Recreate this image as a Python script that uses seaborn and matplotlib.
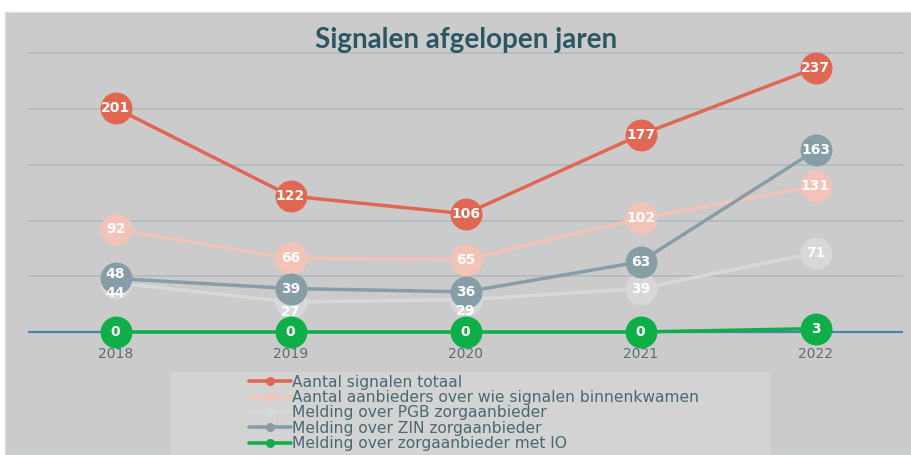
import pandas as pd
import matplotlib.pyplot as plt
import seaborn as sns
from matplotlib.patches import Rectangle
from matplotlib.lines import Line2D

# data
jaren = ['2018', '2019', '2020', '2021', '2022']
totaal = [201, 122, 106, 177, 237]
aanbieders = [92, 66, 65, 102, 131]
pgb = [44, 27, 29, 39, 71]
zin = [48, 39, 36, 63, 163]
io = [0, 0, 0, 0, 3]

series = [
    ('Aantal signalen totaal', totaal, '#e06752'),
    ('Aantal aanbieders over wie signalen binnenkwamen', aanbieders, '#f3c3b8'),
    ('Melding over PGB zorgaanbieder', pgb, '#d8d8d8'),
    ('Melding over ZIN zorgaanbieder', zin, '#879ea6'),
    ('Melding over zorgaanbieder met IO', io, '#0eaf48'),
]
draw_order = [2, 1, 3, 0, 4]

# label nudges in points (to keep stacked labels apart, like the original)
nudge = {2: [-7, -7, -8, 0, 0], 3: [3, 0, 0, 0, 0]}

panel = '#cbcbcb'
textcol = '#4b6872'

sns.set_theme(style='white')
plt.rcParams['font.family'] = ['DejaVu Sans']

fig = plt.figure(figsize=(9.12, 4.55), dpi=100)
fig.patch.set_facecolor('white')
fig.patches.append(Rectangle((5 / 912, 0), 1, (455 - 12) / 455, transform=fig.transFigure,
                             facecolor=panel, edgecolor='#cfe0e8', linewidth=1, zorder=-2))

ax = fig.add_axes([28 / 912, (455 - 340) / 455, (903 - 28) / 912, 300 / 455])
ax.set_facecolor('none')
ax.set_zorder(1)

for i in draw_order:
    name, vals, col = series[i]
    df = pd.DataFrame({'Jaar': jaren, 'Aantal': vals})
    sns.lineplot(data=df, x='Jaar', y='Aantal', ax=ax, color=col, linewidth=2.5,
                 marker='o', markersize=23, markeredgewidth=0, zorder=3 + i, clip_on=False)
    dy = nudge.get(i, [0] * len(vals))
    for x, v in enumerate(vals):
        ax.annotate(str(v), (x, v), xytext=(0, dy[x]), textcoords='offset points',
                    color='white', fontsize=10, fontweight='bold',
                    ha='center', va='center', zorder=10 + i, family='DejaVu Sans')

ax.set_xlim(-0.5, 4.5)
ax.set_ylim(-7.2, 262)
ax.set_yticks([50, 100, 150, 200, 250])
ax.yaxis.grid(True, color='#b1bbc0', linewidth=1.3)
ax.set_axisbelow(True)
ax.axhline(0, color='#4a86ad', linewidth=1.6, zorder=2)
ax.tick_params(axis='y', left=False, labelleft=False)
ax.tick_params(axis='x', bottom=False, pad=-1, labelsize=10, labelcolor='#5a6d77')
ax.set_xlabel('')
ax.set_ylabel('')
for s in ax.spines.values():
    s.set_visible(False)

fig.text(466 / 912, 1 - 40 / 455, 'Signalen afgelopen jaren', ha='center', va='center',
         fontsize=20, fontweight='bold', color='#2b5662', family=['Lato', 'DejaVu Sans'])

# legend box
fig.patches.append(Rectangle((170 / 912, 0), 600 / 912, (455 - 372) / 455,
                             transform=fig.transFigure, facecolor='#d3d3d3',
                             edgecolor='none', zorder=-1))
handles = [Line2D([0], [0], color=col, linewidth=2.6, marker='o', markersize=5.5)
           for _, _, col in series]
labels = [name for name, _, _ in series]
fig.legend(handles, labels, loc='upper left', bbox_to_anchor=(241 / 912, 1 - 367 / 455),
           frameon=False, fontsize=11.2, labelcolor=textcol, handlelength=2.7,
           handletextpad=0.05, labelspacing=0.02, borderpad=0)

fig.savefig('out.png', dpi=100)
